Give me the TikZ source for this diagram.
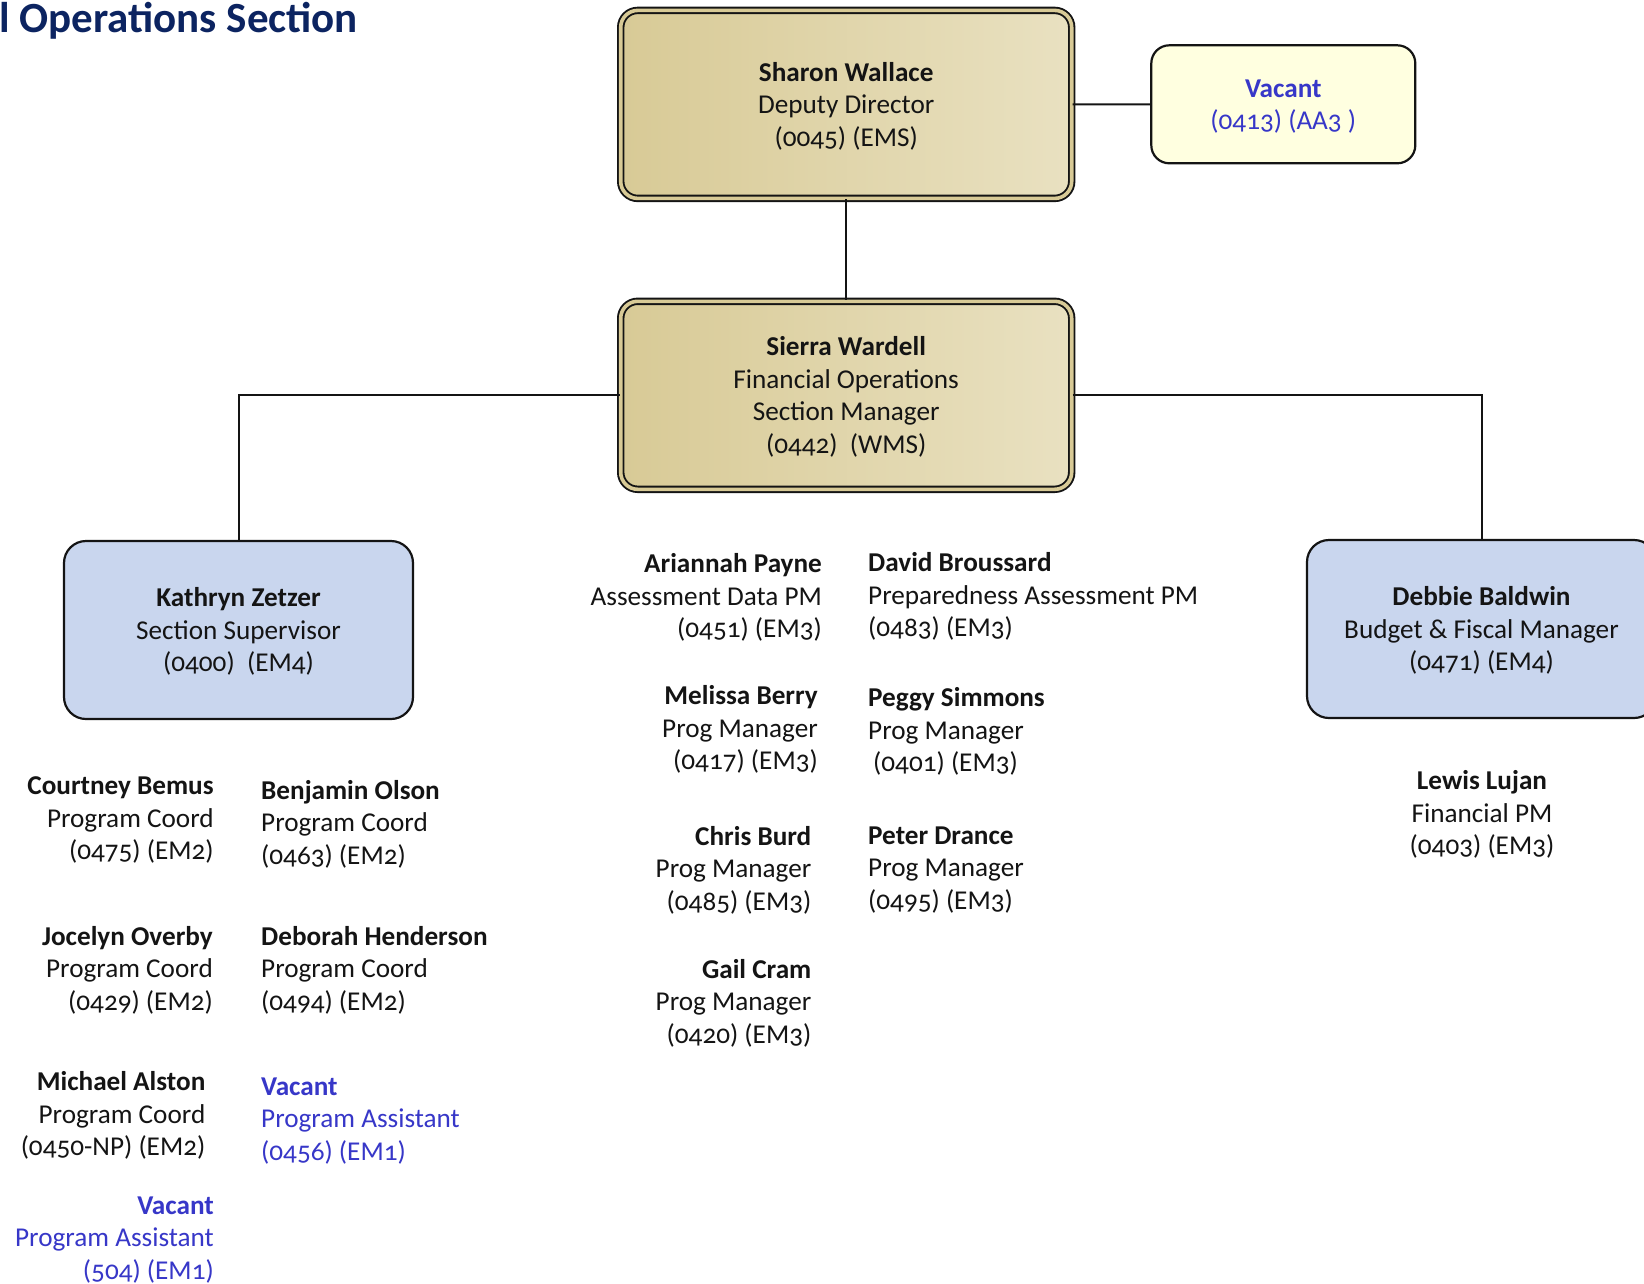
\documentclass[tikz,border=0pt]{standalone}
\usepackage{fontspec}
\setmainfont{Carlito}[Numbers=OldStyle]
\newfontfamily\titlefont{Carlito}
\definecolor{tanA}{RGB}{216,202,150}
\definecolor{tanB}{RGB}{233,225,193}
\definecolor{boxblue}{RGB}{201,214,238}
\definecolor{boxyel}{RGB}{255,255,224}
\definecolor{vacblue}{RGB}{55,55,200}
\definecolor{navy}{RGB}{12,36,97}
\definecolor{ink}{RGB}{20,20,20}
\begin{document}
\begin{tikzpicture}[x=1pt,y=-1pt,
  txt/.style={font=\fontsize{27.2}{32.5}\selectfont, inner sep=0, text=ink},
  vac/.style={txt, text=vacblue},
  tanbox/.style={txt, rounded corners=17pt, draw=ink, line width=1.9pt, double=tanA, double distance=3.6pt,
     left color=tanA, right color=tanB, align=center, minimum width=451pt, minimum height=188pt},
  bluebox/.style={txt, rounded corners=22pt, draw=ink, line width=2.2pt, fill=boxblue, align=center,
     minimum width=349pt, minimum height=178pt},
  yelbox/.style={txt, rounded corners=18pt, draw=ink, line width=2.2pt, fill=boxyel, align=center,
     minimum width=264pt, minimum height=118pt, text=vacblue},
  link/.style={line width=2pt, draw=ink}]
\useasboundingbox (0,0) rectangle (1644,1283);
\fill[white] (0,0) rectangle (1644,1283);

% title
\node[anchor=west, inner sep=0, text=navy, font=\titlefont\bfseries\fontsize{43}{50}\selectfont] (title) at (-1,21) {l Operations Section};

% boxes
\node[tanbox] (sw) at (846.2,104.4) {\rule{0pt}{22pt}\textbf{Sharon Wallace}\\Deputy Director\\(0045) (EMS)};
\node[yelbox] (va) at (1283.3,104.3) {\rule{0pt}{22pt}\textbf{Vacant}\\(0413) (AA3 )};
\node[tanbox] (sm) at (846.2,395.3) {\rule{0pt}{22pt}\textbf{Sierra Wardell}\\Financial Operations\\Section Manager\\(0442)\ \ (WMS)};
\node[bluebox] (kz) at (238.5,630) {\rule{0pt}{22pt}\textbf{Kathryn Zetzer}\\Section Supervisor\\(0400)\ \ (EM4)};
\node[bluebox] (db) at (1481.5,629) {\rule{0pt}{22pt}\textbf{Debbie Baldwin}\\Budget \& Fiscal Manager\\(0471) (EM4)};

% connectors
\draw[link] (sw.east) -- (va.west);
\draw[link] (sw.south) -- (sm.north);
\draw[link] (sm.west) -| (kz.north);
\draw[link] (sm.east) -| (db.north);

% column A (right aligned)
\node[txt, align=right, anchor=east] (cb) at (213.9,820) {\textbf{Courtney Bemus}\\Program Coord\\(0475) (EM2)};
\node[txt, align=right, anchor=east] (jo) at (213,970) {\textbf{Jocelyn Overby}\\Program Coord\\(0429) (EM2)};
\node[txt, align=right, anchor=east] (ma) at (205.5,1115.5) {\textbf{Michael Alston}\\Program Coord\\(0450-NP) (EM2)};
\node[vac, align=right, anchor=east] (v1) at (214,1240) {\textbf{Vacant}\\Program Assistant\\(504) (EM1)};

% column B (left aligned)
\node[txt, align=left, anchor=west] (bo) at (261,824) {\textbf{Benjamin Olson}\\Program Coord\\(0463) (EM2)};
\node[txt, align=left, anchor=west] (dh) at (261,970) {\textbf{Deborah Henderson}\\Program Coord\\(0494) (EM2)};
\node[vac, align=left, anchor=west] (v2) at (261,1120.7) {\textbf{Vacant}\\Program Assistant\\(0456) (EM1)};

% column C (right aligned)
\node[txt, align=right, anchor=east] (ap) at (822,597.5) {\textbf{Ariannah Payne}\\Assessment Data PM\\(0451) (EM3)};
\node[txt, align=right, anchor=east] (mb) at (818,729.6) {\textbf{Melissa Berry}\\Prog Manager\\(0417) (EM3)};
\node[txt, align=right, anchor=east] (cr) at (811.5,870) {\textbf{Chris Burd}\\Prog Manager\\(0485) (EM3)};
\node[txt, align=right, anchor=east] (gc) at (811.5,1003.3) {\textbf{Gail Cram}\\Prog Manager\\(0420) (EM3)};

% column D (left aligned)
\node[txt, align=left, anchor=west] (br) at (868,596.5) {\textbf{David Broussard}\\Preparedness Assessment PM\\(0483) (EM3)};
\node[txt, align=left, anchor=west] (ps) at (868,731.7) {\textbf{Peggy Simmons}\\Prog Manager\\\hspace*{5pt}(0401) (EM3)};
\node[txt, align=left, anchor=west] (pd) at (868,870) {\textbf{Peter Drance}\\Prog Manager\\(0495) (EM3)};

% right column
\node[txt, align=center] (ll) at (1482,814.6) {\textbf{Lewis Lujan}\\Financial PM\\(0403) (EM3)};
\end{tikzpicture}
\end{document}
